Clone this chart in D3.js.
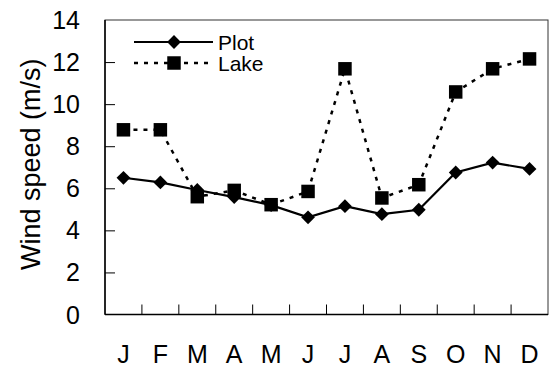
<!DOCTYPE html>
<html><head><meta charset="utf-8">
<script src="https://cdn.jsdelivr.net/npm/d3@7"></script>
<style>body{margin:0;background:#fff}svg{display:block}text{font-family:"Liberation Sans",Arial,sans-serif;fill:#000}</style>
</head><body>
<script>
const months = ["J","F","M","A","M","J","J","A","S","O","N","D"];
const plotSpeed = [6.5, 6.28, 5.92, 5.58, 5.2, 4.62, 5.15, 4.77, 4.98, 6.75, 7.22, 6.92];
const lakeSpeed = [8.78, 8.78, 5.6, 5.9, 5.22, 5.85, 11.68, 5.54, 6.17, 10.58, 11.68, 12.15];
const yTicks = [0, 2, 4, 6, 8, 10, 12, 14];
const seriesNames = ["Plot", "Lake"];

const W = 550, H = 369;
const m = {left: 105, right: 2, top: 20, bottom: 54.5};
const svg = d3.select("body").append("svg").attr("width", W).attr("height", H);
const iw = W - m.left - m.right, ih = H - m.top - m.bottom;
const g = svg.append("g").attr("transform", `translate(${m.left},${m.top})`);

const x = d3.scaleBand().domain(d3.range(12)).range([0, iw]);
const y = d3.scaleLinear().domain([0, 14]).range([ih, 0]);
const cx = i => x(i) + x.bandwidth() / 2;

// frame
g.append("rect").attr("x", 0).attr("y", 0).attr("width", iw).attr("height", ih)
  .attr("fill", "none").attr("stroke", "#333").attr("stroke-width", 1);
g.append("line").attr("x1", 0).attr("x2", 0).attr("y1", 0).attr("y2", ih).attr("stroke", "#000").attr("stroke-width", 1.5);
g.append("line").attr("x1", 0).attr("x2", iw).attr("y1", ih).attr("y2", ih).attr("stroke", "#000").attr("stroke-width", 1.5);

// y axis ticks inside
const yAxis = d3.axisRight(y).tickValues(yTicks).tickSize(10).tickFormat("");
const ya = g.append("g").call(yAxis);
ya.select(".domain").remove();
ya.selectAll("line").attr("stroke", "#000").attr("stroke-width", 1);
ya.selectAll(".tick").filter(d => d === 0 || d === 14).remove();
// y labels
g.append("g").selectAll("text").data(yTicks).join("text")
  .attr("x", -25).attr("y", d => y(d)).attr("dy", "0.36em")
  .attr("text-anchor", "end").style("font-size", "25px").text(d => d);

// x ticks at boundaries
const xb = d3.range(1, 12);
g.append("g").selectAll("line").data(xb).join("line")
  .attr("x1", d => x(d)).attr("x2", d => x(d)).attr("y1", ih).attr("y2", ih - 10)
  .attr("stroke", "#000").attr("stroke-width", 1);
const xAxis = d3.axisBottom(x).tickSize(0).tickFormat(i => months[i]);
const xa = g.append("g").attr("transform", `translate(0,${ih})`).call(xAxis);
xa.select(".domain").remove();
xa.selectAll("text").style("font-size", "25px").attr("y", 30.5).attr("dy", "0.71em")
  .style("font-family", '"Liberation Sans",Arial,sans-serif');

// axis title
svg.append("text").attr("transform", `translate(40,${m.top + ih / 2 - 3}) rotate(-90)`)
  .attr("text-anchor", "middle").style("font-size", "27px").text("Wind speed (m/s)");

const line = d3.line().x((d, i) => cx(i)).y(d => y(d));
const square = d3.symbol().type(d3.symbolSquare).size(182);
const diamond = d3.symbol().type(d3.symbolSquare).size(95);

// Lake
g.append("path").datum(lakeSpeed).attr("d", line).attr("fill", "none")
  .attr("stroke", "#000").attr("stroke-width", 2.5).attr("stroke-dasharray", "4,6");
// Plot
g.append("path").datum(plotSpeed).attr("d", line).attr("fill", "none")
  .attr("stroke", "#000").attr("stroke-width", 2.2);
g.append("g").selectAll("path").data(lakeSpeed).join("path")
  .attr("transform", (d, i) => `translate(${cx(i)},${y(d)})`).attr("d", square).attr("fill", "#000");
g.append("g").selectAll("path").data(plotSpeed).join("path")
  .attr("d", diamond).attr("fill", "#000")
  .attr("transform", (d, i) => `translate(${cx(i)},${y(d)}) rotate(45)`);

// legend
const lg = svg.append("g");
const legendRows = [{name: seriesNames[0], y: 42, dash: null, sym: "d"}, {name: seriesNames[1], y: 63, dash: "4,6", sym: "s"}];
legendRows.forEach(r => {
  lg.append("line").attr("x1", 134).attr("x2", 213).attr("y1", r.y).attr("y2", r.y)
    .attr("stroke", "#000").attr("stroke-width", r.sym === "d" ? 2.2 : 2.5).attr("stroke-dasharray", r.dash);
  if (r.sym === "d") lg.append("path").attr("transform", `translate(174,${r.y}) rotate(45)`).attr("d", diamond).attr("fill", "#000");
  else lg.append("path").attr("transform", `translate(174,${r.y})`).attr("d", square).attr("fill", "#000");
  lg.append("text").attr("x", 218).attr("y", r.y).attr("dy", "0.36em").style("font-size", "21px").text(r.name);
});
</script>
</body></html>
